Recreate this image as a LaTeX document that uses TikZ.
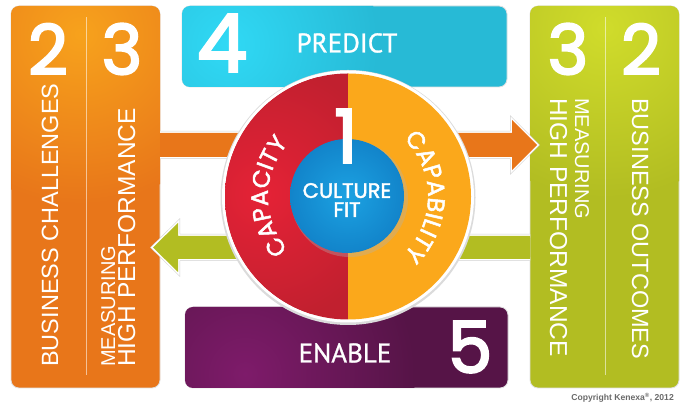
\documentclass[tikz,border=0pt]{standalone}
\usepackage{fontspec}
\setmainfont{Liberation Sans}
\newfontfamily\numfont[FakeBold=3]{Poppins}
\newfontfamily\corefont[FakeBold=2]{Poppins}
\newfontfamily\headfont[FakeBold=1]{PT Sans}
\usetikzlibrary{decorations.text}

\definecolor{orangebox}{HTML}{E8761A}
\definecolor{orangehi}{HTML}{F7A21C}
\definecolor{greenbox}{HTML}{B2BD22}
\definecolor{greenhi}{HTML}{D0DC2B}
\definecolor{cyanbox}{HTML}{27BAD6}
\definecolor{cyanhi}{HTML}{30D9F5}
\definecolor{purplebox}{HTML}{561447}
\definecolor{purplehi}{HTML}{7E1B6A}
\definecolor{redhalf}{HTML}{C1202F}
\definecolor{redhi}{HTML}{E52236}
\definecolor{yellowhalf}{HTML}{FBA81B}
\definecolor{bluecore}{HTML}{1284CA}
\definecolor{bluehi}{HTML}{1CA2E2}
\definecolor{copygray}{HTML}{6A6A6A}

\newcommand\curvefont{\corefont\fontsize{24}{24}\selectfont\color{white}}

\tikzset{
  panel/.style={draw=black!12, line width=0.8pt, rounded corners=8pt},
  arrowshadow/.style={draw=black!18, line width=4pt, line join=miter},
  arrowedge/.style={draw=white, line width=3pt, line join=miter},
  bignum/.style={text=white, inner sep=0pt, font=\numfont\fontsize{69}{69}\selectfont},
  sidelabel/.style={text=white, inner sep=0pt, anchor=base west, font=\fontsize{23.5}{24}\selectfont},
  headlabel/.style={text=white, inner sep=0pt, font=\headfont\fontsize{27}{27}\selectfont},
  divider/.style={draw=white, draw opacity=0.55, line width=0.9pt},
}

\begin{document}
\begin{tikzpicture}[x=1pt,y=1pt]
\useasboundingbox (0,0) rectangle (682,406);
\fill[white] (0,0) rectangle (682,406);

% ---- side panels ----
\path[panel, fill=orangebox] (11,18) rectangle (160,400);
\begin{scope}
  \clip[rounded corners=8pt] (11,18) rectangle (160,400);
  \shade[inner color=orangehi, outer color=orangebox] (80,372) circle (170);
\end{scope}
\path[panel, fill=greenbox] (530,18) rectangle (679,400);
\begin{scope}
  \clip[rounded corners=8pt] (530,18) rectangle (679,400);
  \shade[inner color=greenhi, outer color=greenbox] (605,378) circle (170);
\end{scope}
\draw[divider] (86,31) -- (86,389);
\draw[divider] (605,31) -- (605,389);

% ---- top and bottom bars ----
\path[panel, fill=cyanbox] (182,319) rectangle (507,400);
\begin{scope}
  \clip[rounded corners=8pt] (182,319) rectangle (507,400);
  \shade[inner color=cyanhi, outer color=cyanbox] (228,362) circle (150);
\end{scope}
\path[panel, fill=purplebox] (185,18) rectangle (508,99);
\begin{scope}
  \clip[rounded corners=8pt] (185,18) rectangle (508,99);
  \shade[inner color=purplehi, outer color=purplebox] (245,32) circle (170);
\end{scope}

% ---- arrows ----
\coordinate (oa0) at (160,273);
\coordinate (oa1) at (160,249);
\coordinate (ga0) at (530,170);
\coordinate (ga1) at (530,147);
\def\orangearrowpath{(oa0) -- (512,273) -- (512,286) -- (537,261) -- (512,236) -- (512,249) -- (oa1)}
\def\greenarrowpath{(ga0) -- (178,170) -- (178,183) -- (153,158.5) -- (178,134) -- (178,147) -- (ga1)}
\draw[arrowshadow] \orangearrowpath;
\draw[arrowedge] \orangearrowpath;
\fill[orangebox] \orangearrowpath -- cycle;
\draw[arrowshadow] \greenarrowpath;
\draw[arrowedge] \greenarrowpath;
\fill[greenbox] \greenarrowpath -- cycle;

% ---- central disc ----
\coordinate (c) at (348,209.5);
\fill[black!14] (348,208.5) circle (127.5);
\fill[white] (c) circle (126);
\begin{scope}
  \clip (c) ++(90:123) arc[start angle=90, end angle=270, radius=123] -- cycle;
  \fill[redhalf] (c) circle (124);
  \shade[inner color=redhi, outer color=redhalf] (262,212) circle (130);
\end{scope}
\fill[yellowhalf] (c) ++(270:123) arc[start angle=270, end angle=450, radius=123] -- cycle;
\fill[black!30, opacity=0.35] (349.5,207.5) circle (58.5);
\shade[inner color=bluehi, outer color=bluecore] (347,210) circle (57);

% ---- curved labels ----
\path[decorate, decoration={text along path, text align=center,
  text={|\curvefont|CAPACITY}}]
  (c) ++(225:80) arc[start angle=225, end angle=135, radius=80];
\path[decorate, decoration={text along path, text align=center,
  text={|\curvefont|CAPABILITY}}]
  (c) ++(48:80) arc[start angle=48, end angle=-48, radius=80];

% ---- numbers ----
\node[bignum] (n2l) at (48,357) {2};
\node[bignum] (n3l) at (122,357) {3};
\node[bignum] (n3r) at (568,357) {3};
\node[bignum] (n2r) at (641,357) {2};
\node[bignum, font=\numfont\fontsize{80}{80}\selectfont] (n4) at (222,363) {4};
\node[bignum, font=\numfont\fontsize{71}{71}\selectfont] (n5) at (470,59) {5};
\node[bignum, font=\numfont\fontsize{74}{74}\selectfont] (n1) at (346,270) {1};

% ---- side labels ----
\node[sidelabel, rotate=90] (bc) at (58,39) {BUSINESS CHALLENGES};
\node[sidelabel, rotate=90, font=\fontsize{20}{20}\selectfont] (mhl1) at (115,39) {MEASURING};
\node[sidelabel, rotate=90, font=\fontsize{24.5}{25}\selectfont] (mhl2) at (135,39) {HIGH PERFORMANCE};
\node[sidelabel, rotate=-90, font=\fontsize{24.5}{25}\selectfont] (mhr2) at (550,308) {HIGH PERFORMANCE};
\node[sidelabel, rotate=-90, font=\fontsize{20}{20}\selectfont] (mhr1) at (575,308) {MEASURING};
\node[sidelabel, rotate=-90] (bo) at (632,308) {BUSINESS OUTCOMES};

% ---- bar labels ----
\node[headlabel] (predict) at (347,363) {PREDICT};
\node[headlabel] (enable) at (345,53) {ENABLE};

% ---- core labels ----
\node[text=white, inner sep=0pt, align=center,
  font=\corefont\fontsize{21}{19}\selectfont] (fit) at (347,206) {CULTURE\\FIT};

% ---- footer ----
\node[anchor=base east, inner sep=0pt, text=copygray,
  font=\bfseries\fontsize{8.6}{9}\selectfont] (copy) at (674,5) {Copyright Kenexa\textsuperscript{\textregistered}, 2012};
\end{tikzpicture}
\end{document}
